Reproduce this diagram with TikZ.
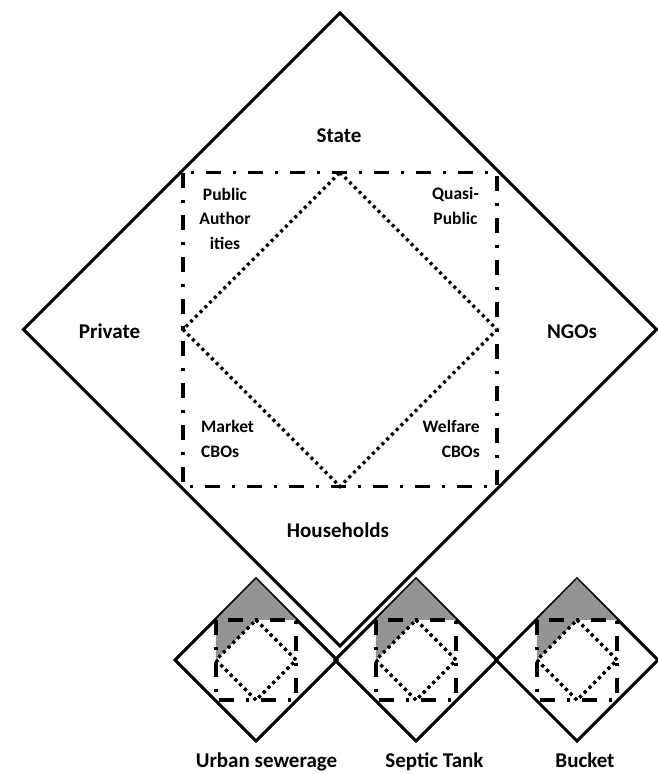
\documentclass[tikz,border=0pt]{standalone}
\usepackage{fontspec}
\setmainfont{Carlito}
\usepackage{tikz}
\usepackage{xcolor}
\definecolor{wellgray}{gray}{0.58}

\tikzset{
	frame/.style={line width=3pt},
	tier/.style={line width=3.5pt,dash pattern=on 15pt off 12pt on 3pt off 12pt},
	link/.style={line width=3.2pt,dash pattern=on 3pt off 3.7pt},
	biglabel/.style={font=\fontsize{21}{25}\selectfont\bfseries,inner sep=0pt},
	smalllabel/.style={font=\fontsize{17.5}{24.5}\selectfont\bfseries,inner sep=0pt}
}

% diamond, square of tiers and dotted links round (0,0)
\newcommand{\tierframe}{%
	\draw[frame] (0,-316.5)--(316.5,0)--(0,316.5)--(-316.5,0)--cycle;
	\draw[tier] (-157,-157) rectangle (157,157);
	\draw[link] (0,-157)--(157,0)--(0,157)--(-157,0)--cycle;
}

\begin{document}
\begin{tikzpicture}[x=1pt,y=-1pt]
	\useasboundingbox (0,0) rectangle (657,774);

	%MAIN FRAME
	\begin{scope}[shift={(340,329.5)}]
		\tierframe
	\end{scope}

	%SECTORS
	\node[biglabel,anchor=base] (state) at (339,142) {State};
	\node[biglabel,anchor=base] (private) at (109.5,338) {Private};
	\node[biglabel,anchor=base] (ngos) at (572,338) {NGOs};
	\node[biglabel,anchor=base] (households) at (338,537) {Households};

	%ACTORS
	\node[smalllabel,align=center,anchor=base] (public) at (225,249) {Public\\Author\\ities};
	\node[smalllabel,align=center,anchor=base] (quasi) at (455.5,224) {Quasi-\\Public};
	\node[smalllabel,align=left,anchor=base west] (market) at (201,457) {Market\\CBOs};
	\node[smalllabel,align=right,anchor=base east] (welfare) at (480,457) {Welfare\\CBOs};

	%SYSTEMS
	\foreach \cx/\tx/\name in {256/266.5/Urban sewerage,416/434.5/Septic Tank,577/585/Bucket}{
		\begin{scope}[shift={(\cx,660)},scale=0.256]
			\tierframe
			\fill[wellgray] (-157,-157)--(0,-316.5)--(157,-157)--(0,-157)--(-157,0)--cycle;
			\draw[tier] (-157,-157) rectangle (157,157);
			\draw[link] (0,-157)--(157,0)--(0,157)--(-157,0)--cycle;
		\end{scope}
		\node[biglabel,anchor=base] (sys-\cx) at (\tx,767) {\name};
	}
\end{tikzpicture}
\end{document}
